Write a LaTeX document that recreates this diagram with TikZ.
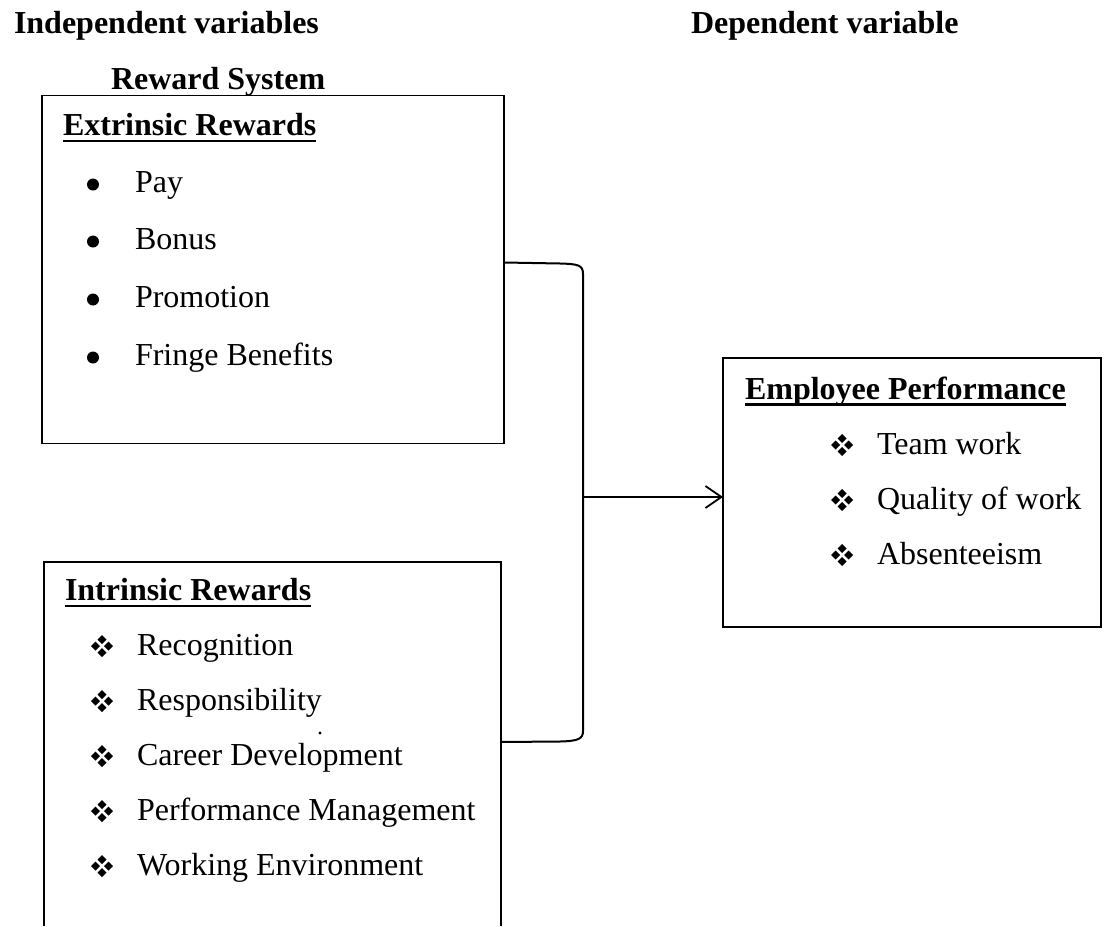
\documentclass[tikz,border=0pt]{standalone}
\usepackage{fontspec}
\setmainfont{Liberation Serif}
\usetikzlibrary{arrows.meta,calc}
\begin{document}
\begin{tikzpicture}[x=1pt,y=-1pt,
  every node/.style={inner sep=0pt, outer sep=0pt, font=\fontsize{32}{38}\selectfont},
  hd/.style={font=\fontsize{32}{38}\selectfont\bfseries, anchor=base west},
  item/.style={anchor=base west},
  frame/.style={draw=black, line width=1.5pt},
  uline/.style={line width=2.4pt},
  bracketline/.style={line width=2pt},
  flow/.style={line width=1.5pt, -{Straight Barb[length=16pt,width=22pt,line width=1.8pt]}},
  fleur/.pic={\foreach \dx/\dy in {-6.5/0,6.5/0,0/-6.5,0/6.5}
     \fill[shift={(\dx,\dy)}] (-4.5,0) -- (0,-4.5) -- (4.5,0) -- (0,4.5) -- cycle;}
]
\useasboundingbox (0,0) rectangle (1110,926);

% titles
\node[hd] (indep) at (14,33) {Independent variables};
\node[hd] (dep) at (691,33) {Dependent variable};
\node[hd] (rs) at (111,89) {Reward System};

% boxes
\node[frame, minimum width=462pt, minimum height=348pt] (extr) at (273,269.5) {};
\node[minimum width=457pt, minimum height=364pt] (intr) at (272.5,744) {};
\draw[frame] (intr.south west) -- (intr.north west) -- (intr.north east) -- (intr.south east);
\node[frame, minimum width=378pt, minimum height=269pt] (emp) at (912,492.5) {};

% extrinsic
\node[hd] (exh) at (63,135) {Extrinsic Rewards};
\draw[uline] ($(exh.base west)+(0,6)$) -- ($(exh.base east)+(0,6)$);
\node[item] (e1) at (135,192) {Pay};
\node[item] (e2) at (135,249) {Bonus};
\node[item] (e3) at (135,307) {Promotion};
\node[item] (e4) at (135,365) {Fringe Benefits};
\foreach \n in {e1,e2,e3,e4} \fill ($(\n.base west)+(-42,-7.5)$) circle (6);

% intrinsic
\node[hd] (inh) at (65,600) {Intrinsic Rewards};
\draw[uline] ($(inh.base west)+(0,6)$) -- ($(inh.base east)+(0,6)$);
\node[item] (i1) at (137,655) {Recognition};
\node[item] (i2) at (137,710) {Responsibility};
\node[item] (i3) at (137,765) {Career Development};
\node[item] (i4) at (137,820) {Performance Management};
\node[item] (i5) at (137,875) {Working Environment};
\foreach \n in {i1,i2,i3,i4,i5} \path ($(\n.base west)+(-35,-9)$) pic {fleur};
\fill (320,733) circle (1.6);

% employee performance
\node[hd] (emh) at (745,399) {Employee Performance};
\draw[uline] ($(emh.base west)+(0,5.5)$) -- ($(emh.base east)+(0,5.5)$);
\node[item] (p1) at (877,454) {Team work};
\node[item] (p2) at (877,509) {Quality of work};
\node[item] (p3) at (877,564) {Absenteeism};
\foreach \n in {p1,p2,p3} \path ($(\n.base west)+(-35,-9)$) pic {fleur};

% bracket and arrow
\coordinate (ja) at ($(extr.north east)+(0,167)$);
\coordinate (jb) at ($(intr.north east)+(0,180)$);
\coordinate (mid) at (583,497);
\draw[bracketline] (ja) -- (560,263.5) .. controls (578,264) and (583,265) .. (583,274)
   -- (583,731) .. controls (583,739) and (578,741) .. (560,741.5) -- (jb);
\draw[flow] (mid) -- (emp.west |- mid);
\end{tikzpicture}
\end{document}
